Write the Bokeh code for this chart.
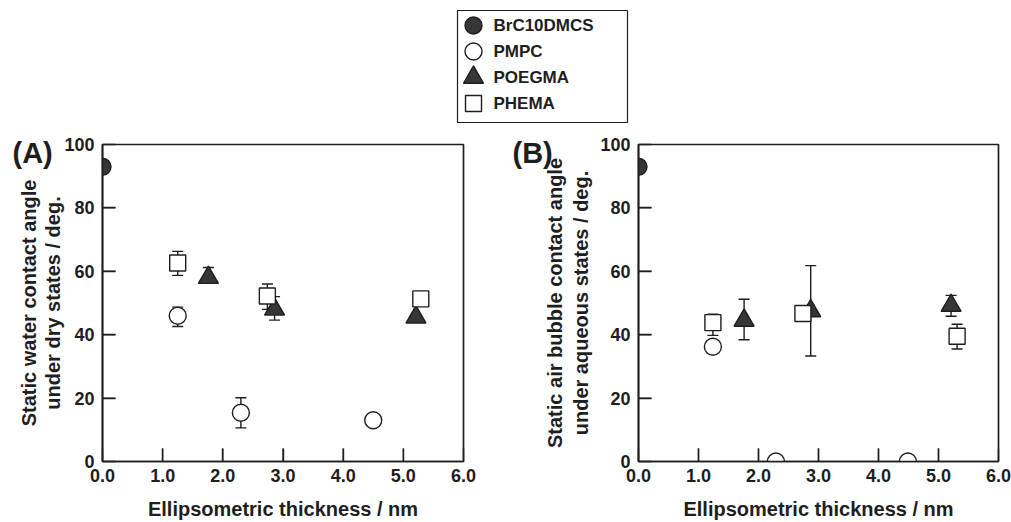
import math
from bokeh.plotting import figure
from bokeh.layouts import column, row
from bokeh.models import Range1d, FixedTicker, NumeralTickFormatter
from bokeh.embed import file_html
from bokeh.resources import INLINE
from bokeh.core.properties import value

# ---------------- data ----------------
series = ["BrC10DMCS", "PMPC", "POEGMA", "PHEMA"]
x_ticks = [0, 1, 2, 3, 4, 5, 6]
x_inner_ticks = [1.0, 2.0, 3.0, 4.0, 5.0]
y_ticks = [0, 20, 40, 60, 80, 100]
y_inner_ticks = [20.0, 40.0, 60.0, 80.0]
x_title = "Ellipsometric thickness / nm"
a_ytitle = "Static water contact angle\nunder dry states / deg."
b_ytitle = "Static air bubble contact angle\nunder aqueous states / deg."

# Panel A (dry, water contact angle)
a_brc_x = [0.0]
a_brc_y = [93.0]
a_pmpc_x = [1.25, 2.3, 4.5]
a_pmpc_y = [46.0, 15.4, 13.0]
a_pmpc_lo = [42.6, 10.6, 13.0]
a_pmpc_hi = [48.7, 20.1, 13.0]
a_poegma_x = [1.76, 2.86, 5.21]
a_poegma_y = [58.0, 48.0, 45.5]
a_poegma_lo = [58.0, 44.6, 45.5]
a_poegma_hi = [61.2, 52.0, 45.5]
a_phema_x = [1.25, 2.74, 5.29]
a_phema_y = [62.6, 52.2, 51.3]
a_phema_lo = [58.7, 48.0, 51.3]
a_phema_hi = [66.3, 56.0, 51.3]

# Panel B (aqueous, air bubble contact angle)
b_brc_x = [0.0]
b_brc_y = [93.0]
b_pmpc_x = [1.24, 2.29, 4.49]
b_pmpc_y = [36.2, 0.0, 0.0]
b_pmpc_lo = [36.2, 0.0, 0.0]
b_pmpc_hi = [36.2, 0.0, 0.0]
b_poegma_x = [1.76, 2.87, 5.21]
b_poegma_y = [44.5, 47.5, 49.2]
b_poegma_lo = [38.4, 33.3, 45.8]
b_poegma_hi = [51.2, 61.8, 52.4]
b_phema_x = [1.24, 2.74, 5.31]
b_phema_y = [43.8, 46.7, 39.5]
b_phema_lo = [39.8, 46.7, 35.5]
b_phema_hi = [46.5, 46.7, 43.3]

# ---------------- styles ----------------
FONT = "Liberation Sans"
DARK = "#363636"
INK = "#1e1e1e"
LW = 1.4
FRAME_LW = 1.7
TICK_PX = 13
styles = {
    "BrC10DMCS": dict(marker="circle", size=17, fill_color=DARK, line_color=INK),
    "PMPC": dict(marker="circle", size=17, fill_color="white", line_color=INK),
    "POEGMA": dict(marker="triangle", size=20, fill_color=DARK, line_color=INK),
    "PHEMA": dict(marker="square", size=16, fill_color="white", line_color=INK),
}

# layout (pixels)
BOX_H = 321
LEG_H = 128
TOTAL_H = 522
FRAME_TOP = 144


def errbars(p, xs, lo, hi):
    idx = [i for i in range(len(xs)) if hi[i] > lo[i]]
    if not idx:
        return
    ex = [xs[i] for i in idx]
    elo = [lo[i] for i in idx]
    ehi = [hi[i] for i in idx]
    p.segment(ex, elo, ex, ehi, line_color=INK, line_width=LW)
    p.scatter(ex, elo, marker="dash", size=11, line_color=INK, line_width=LW)
    p.scatter(ex, ehi, marker="dash", size=11, line_color=INK, line_width=LW)


def panel(fig_w, box_left, box_w, ytitle, ytitle_lh, ytitle_standoff, tag, tag_left, data):
    xmin, xmax = float(x_ticks[0]), float(x_ticks[-1])
    ymin, ymax = float(y_ticks[0]), float(y_ticks[-1])
    xpx = box_w / (xmax - xmin)
    ypx = BOX_H / (ymax - ymin)
    border_l = box_left
    border_r = fig_w - border_l - box_w
    fig_h = TOTAL_H - LEG_H
    border_t = FRAME_TOP - LEG_H
    border_b = fig_h - border_t - BOX_H
    p = figure(width=fig_w, height=fig_h, output_backend="svg", toolbar_location=None,
               x_range=Range1d(xmin, xmax), y_range=Range1d(ymin, ymax),
               min_border_left=border_l, min_border_right=border_r,
               min_border_top=border_t, min_border_bottom=border_b)
    p.grid.visible = False
    p.outline_line_color = INK
    p.outline_line_width = FRAME_LW
    for ax in (p.xaxis[0], p.yaxis[0]):
        ax.axis_line_color = INK
        ax.axis_line_width = FRAME_LW
        ax.major_tick_line_color = INK
        ax.major_tick_line_width = LW
        ax.major_tick_in = TICK_PX
        ax.major_tick_out = 0
        ax.minor_tick_line_color = None
        ax.minor_tick_in = 0
        ax.minor_tick_out = 0
        ax.major_label_text_font = FONT
        ax.major_label_text_font_style = "bold"
        ax.major_label_text_font_size = "18px"
        ax.major_label_text_color = INK
        ax.axis_label_text_font = FONT
        ax.axis_label_text_font_style = "bold"
        ax.axis_label_text_font_size = "20px"
        ax.axis_label_text_color = INK
    p.xaxis.ticker = FixedTicker(ticks=x_ticks)
    p.xaxis.formatter = NumeralTickFormatter(format="0.0")
    p.xaxis.major_label_standoff = 7
    p.xaxis.axis_label = x_title
    p.xaxis.axis_label_standoff = 13
    p.yaxis.ticker = FixedTicker(ticks=y_ticks)
    p.yaxis.major_label_standoff = 8
    p.yaxis.axis_label = ytitle
    p.yaxis.axis_label_standoff = ytitle_standoff
    p.yaxis.axis_label_text_line_height = ytitle_lh

    for name, (xs, ys, lo, hi) in zip(series, data):
        if lo is not None:
            errbars(p, xs, lo, hi)

    # inward ticks (also drawn as glyphs, on top of the axis ticks)
    p.scatter(x_inner_ticks, [ymin + TICK_PX / 2 / ypx] * len(x_inner_ticks),
              marker="dash", size=TICK_PX, angle=math.pi / 2,
              line_color=INK, line_width=LW)
    p.scatter([xmin + TICK_PX / 2 / xpx] * len(y_inner_ticks), y_inner_ticks,
              marker="dash", size=TICK_PX, line_color=INK, line_width=LW)

    for name, (xs, ys, lo, hi) in zip(series, data):
        p.scatter(xs, ys, line_width=LW, **styles[name])

    # panel tag "(A)"/"(B)" as a title hung into the left margin
    p.title.text = tag
    p.title.align = "left"
    p.title.offset = tag_left - border_l
    p.title.standoff = -48
    p.title.vertical_align = "bottom"
    p.title.text_font = FONT
    p.title.text_font_style = "bold"
    p.title.text_font_size = "29px"
    p.title.text_color = INK
    return p


pa = panel(505, 102, 361, a_ytitle, 1.1, -3, "(A)", 12, [
    (a_brc_x, a_brc_y, None, None),
    (a_pmpc_x, a_pmpc_y, a_pmpc_lo, a_pmpc_hi),
    (a_poegma_x, a_poegma_y, a_poegma_lo, a_poegma_hi),
    (a_phema_x, a_phema_y, a_phema_lo, a_phema_hi),
])
pb = panel(506, 638 - 505, 360, b_ytitle, 1.2, 5, "(B)", 512 - 505, [
    (b_brc_x, b_brc_y, None, None),
    (b_pmpc_x, b_pmpc_y, b_pmpc_lo, b_pmpc_hi),
    (b_poegma_x, b_poegma_y, b_poegma_lo, b_poegma_hi),
    (b_phema_x, b_phema_y, b_phema_lo, b_phema_hi),
])

# ---------------- legend (top) ----------------
pl = figure(width=1011, height=LEG_H, output_backend="svg", toolbar_location=None,
            x_range=Range1d(0, 1011), y_range=Range1d(LEG_H, 0),
            min_border=0)
pl.axis.visible = False
pl.grid.visible = False
pl.outline_line_color = None
box_l, box_r, box_t, box_b = 457, 627, 10, 122
row0, row_step = 25, 26
mark_x, text_x = 473, 493
pl.quad(left=[box_l], right=[box_r], top=[box_t], bottom=[box_b],
        fill_color="white", line_color=INK, line_width=1.2)
for i, name in enumerate(series):
    yy = row0 + i * row_step
    pl.scatter([mark_x], [yy], line_width=LW, **styles[name])
pl.text(x=[text_x] * len(series), y=[row0 + i * row_step for i in range(len(series))],
        text=series, text_font=value(FONT), text_font_style="bold",
        text_font_size="17px", text_color=INK, text_baseline="middle", text_align="left")

layout = column(pl, row(pa, pb))
open("out.html", "w").write(file_html(layout, INLINE))
